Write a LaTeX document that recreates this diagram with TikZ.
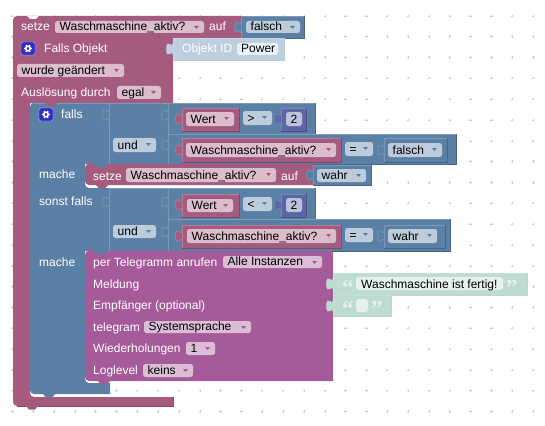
\documentclass[tikz,border=0pt]{standalone}
\usepackage{fontspec}
\setmainfont{Liberation Sans}
\newfontfamily\quotefont{Liberation Serif}
\usepackage{tikz}
\definecolor{basered}{HTML}{A55B80}
\definecolor{lightred}{HTML}{B77C99}
\definecolor{darkred}{HTML}{844966}
\definecolor{fieldred}{HTML}{DBBDCC}
\definecolor{arrowred}{HTML}{A55B80}
\definecolor{baseblue}{HTML}{5B80A5}
\definecolor{lightblue}{HTML}{7C99B7}
\definecolor{darkblue}{HTML}{496684}
\definecolor{fieldblue}{HTML}{BDCCDB}
\definecolor{arrowblue}{HTML}{5B80A5}
\definecolor{basepurple}{HTML}{A55B99}
\definecolor{lightpurple}{HTML}{B77CAD}
\definecolor{darkpurple}{HTML}{84497A}
\definecolor{fieldpurple}{HTML}{DBBDD6}
\definecolor{arrowpurple}{HTML}{A55B99}
\definecolor{basenum}{HTML}{5B67A5}
\definecolor{lightnum}{HTML}{7C85B7}
\definecolor{darknum}{HTML}{495284}
\definecolor{fieldnum}{HTML}{BDC2DB}
\definecolor{baseteal}{HTML}{BFDCD1}
\definecolor{lightteal}{HTML}{C6E0D6}
\definecolor{darkteal}{HTML}{BAD8CC}
\definecolor{fieldteal}{HTML}{E6F1EC}
\definecolor{baseid}{HTML}{BDCFDF}
\definecolor{lightid}{HTML}{C6D6E4}
\definecolor{darkid}{HTML}{B7CADB}
\definecolor{fieldid}{HTML}{EBF1F6}
\definecolor{gearblue}{HTML}{3030C8}
\tikzset{
  text_node/.style = {anchor=base west, inner sep=0pt, font=\fontsize{12}{14}\selectfont},
  label_node/.style = {text_node, text=white},% texte des blocs
  field_node/.style = {text_node, text=black},% texte des champs
  quote_node/.style = {anchor=base west, inner sep=0pt, text=fieldteal,
    font=\quotefont\bfseries\fontsize{23}{23}\selectfont},
  dot_mark/.style = {draw=black!20, line width=0.5pt}
}
% x1 y1 x2 y2 base
\newcommand{\blockbox}[5]{
  \fill[base#5] (#1,#2) rectangle (#3,#4);
  \draw[dark#5] (#3,#2) -- (#3,#4) -- (#1,#4);
  \draw[light#5] (#1,#4) -- (#1,#2) -- (#3,#2);
}
% x ycentre base
\newcommand{\puzzletab}[3]{
  \path[fill=base#3, draw=light#3, line width=0.6pt] (#1,#2-6)
    .. controls (#1,#2+2) and (#1-6.4,#2-12.4) .. (#1-6.4,#2)
    .. controls (#1-6.4,#2+12.4) and (#1,#2-2) .. (#1,#2+6);
}
% x y base
\newcommand{\notchbump}[3]{
  \fill[#3] (#1-6,#2) -- (#1-3,#2+3.5) -- (#1+3,#2+3.5) -- (#1+6,#2) -- cycle;
}
% name x1 y1 x2 y2 scheme text
\newcommand{\dropfield}[7]{
  \fill[field#6, rounded corners=2.5pt] (#2,#3) rectangle (#4,#5);
  \node[field_node] (#1) at (#2+4.5,#5-2.5) {#7};
  \fill[arrow#6] (#4-10,#3+5) -- (#4-5,#3+5) -- (#4-7.5,#3+8) -- cycle;
}
% x y
\newcommand{\gearicon}[2]{
  \fill[gearblue, rounded corners=2pt] (#1,#2) rectangle ++(14,13);
  \draw[white!70!gearblue, rounded corners=2pt] (#1,#2) rectangle ++(14,13);
  \draw[white, line width=1.6pt] (#1+7,#2+6.5) circle (2.3pt);
  \foreach \ang in {0,60,...,300}
    \fill[white] (#1+7,#2+6.5) ++(\ang:3.2pt) circle (0.9pt);
}
\begin{document}
\begin{tikzpicture}[x=1pt, y=-1pt]
  \useasboundingbox (0,0) rectangle (545,425);
  \fill[white] (0,0) rectangle (545,425);
  % grille
  \foreach \i in {0,...,25}
    \foreach \j in {0,...,19} {
      \draw[dot_mark] (12.3+\i*20.83-1.2,15.8+\j*20.83) -- ++(2.4,0);
      \draw[dot_mark] (12.3+\i*20.83,15.8+\j*20.83-1.2) -- ++(0,2.4);
    }

  % bloc du haut
  \blockbox{241}{16}{304}{38}{blue}
  \fill[basered] (13,38) [rounded corners=4pt] -- (13,16) [sharp corners] -- (241,16) -- (241,38) -- cycle;
  \draw[lightred] (13,38) -- (241,38);
  \fill[white] (27,16) -- (30,19) -- (36,19) -- (39,16) -- cycle;
  \node[label_node] (setzeA) at (21,31) {setze};
  \dropfield{varA}{55}{21}{204}{33}{red}{Waschmaschine\_aktiv?}
  \node[label_node] (aufA) at (209,31) {auf};
  \puzzletab{241}{27}{blue}
  \dropfield{valA}{246}{21}{300}{33}{blue}{falsch}

  % bloc falls objekt
  \fill[basered] (13,38) -- (173,38) -- (173,103) -- (30,103) [rounded corners=4pt] -- (30,397) [sharp corners]
    -- (173,397) -- (173,406) [rounded corners=4pt] -- (13,406) [sharp corners] -- cycle;
  \draw[darkred] (173,397) -- (173,406) -- (17,406);
  \notchbump{32}{406}{basered}
  \gearicon{21}{42}
  \node[label_node] (objekt) at (44,53) {Falls Objekt};
  \blockbox{173}{38}{284}{60}{id}
  \puzzletab{173}{49}{id}
  \node[label_node] (objektid) at (182,53) {Objekt ID};
  \fill[fieldid, rounded corners=2.5pt] (237,43) rectangle (278,55);
  \node[field_node] (power) at (241,53) {Power};
  \dropfield{changed}{17}{64}{124}{77}{red}{wurde geändert}
  \node[label_node] (trigger) at (21,96) {Auslösung durch};
  \dropfield{egal}{117}{86}{161}{99}{red}{egal}

  % bloc falls
  \fill[baseblue] (34,103) -- (109,103) -- (109,164) -- (85,164) [rounded corners=4pt] -- (85,188) [sharp corners]
    -- (109,188) -- (109,251) -- (85,251) [rounded corners=4pt] -- (85,383) [sharp corners] -- (110,383) -- (110,394)
    [rounded corners=4pt] -- (30,394) -- (30,103) -- (34,103) [sharp corners] -- cycle;
  \draw[lightblue] (109,103) -- (34,103);
  \notchbump{51}{103}{basered}
  \notchbump{49}{394}{baseblue}
  \gearicon{39}{108}
  \node[label_node] (falls) at (61,118) {falls};
  \node[label_node] (macheA) at (39,178) {mache};
  \node[label_node] (sonst) at (39,205) {sonst falls};
  \node[label_node] (macheB) at (39,266) {mache};

  % premier und
  \blockbox{109}{103}{168}{164}{blue}
  \puzzletab{109}{115}{blue}
  \dropfield{undA}{113}{138}{156}{152}{blue}{und}
  \blockbox{168}{103}{315}{134}{blue}
  \blockbox{168}{134}{456}{164}{blue}
  \puzzletab{168}{115}{blue}
  \puzzletab{168}{145}{blue}
  \blockbox{182}{108}{239}{131}{red}
  \puzzletab{182}{119}{red}
  \dropfield{wertA}{186}{112}{234}{126}{red}{Wert}
  \dropfield{cmpA}{243}{111}{272}{125}{blue}{>}
  \blockbox{281}{108}{306}{131}{num}
  \puzzletab{281}{119}{num}
  \fill[fieldnum, rounded corners=2.5pt] (286,112) rectangle (302,126);
  \node[field_node] (zweiA) at (290.5,123) {2};
  \blockbox{182}{138}{341}{162}{red}
  \puzzletab{182}{150}{red}
  \dropfield{varB}{186}{143}{336}{157}{red}{Waschmaschine\_aktiv?}
  \dropfield{cmpB}{345}{142}{373}{156}{blue}{=}
  \blockbox{384}{138}{447}{162}{blue}
  \puzzletab{384}{150}{blue}
  \dropfield{valB}{388}{143}{442}{157}{blue}{falsch}

  % setze dans mache
  \blockbox{313}{165}{371}{185}{blue}
  \fill[basered] (89,164) -- (313,164) -- (313,185) [rounded corners=4pt] -- (85,185) -- (85,164) -- (89,164) [sharp corners] -- cycle;
  \notchbump{101}{164}{baseblue}
  \notchbump{102}{185}{basered}
  \node[label_node] (setzeB) at (93,180) {setze};
  \dropfield{varC}{126}{168}{276}{182}{red}{Waschmaschine\_aktiv?}
  \node[label_node] (aufB) at (281,180) {auf};
  \puzzletab{313}{175}{blue}
  \dropfield{valC}{317}{169}{366}{182}{blue}{wahr}

  % second und
  \blockbox{109}{188}{168}{251}{blue}
  \puzzletab{109}{202}{blue}
  \dropfield{undB}{113}{225}{156}{238}{blue}{und}
  \blockbox{168}{188}{315}{219}{blue}
  \blockbox{168}{219}{450}{251}{blue}
  \puzzletab{168}{202}{blue}
  \puzzletab{168}{232}{blue}
  \blockbox{182}{194}{239}{217}{red}
  \puzzletab{182}{205}{red}
  \dropfield{wertB}{187}{199}{233}{212}{red}{Wert}
  \dropfield{cmpC}{243}{197}{272}{211}{blue}{<}
  \blockbox{281}{194}{306}{217}{num}
  \puzzletab{281}{205}{num}
  \fill[fieldnum, rounded corners=2.5pt] (286,198) rectangle (302,212);
  \node[field_node] (zweiB) at (290.5,209) {2};
  \blockbox{182}{225}{341}{248}{red}
  \puzzletab{182}{236}{red}
  \dropfield{varD}{187}{229}{336}{243}{red}{Waschmaschine\_aktiv?}
  \dropfield{cmpD}{345}{228}{373}{242}{blue}{=}
  \blockbox{384}{225}{445}{248}{blue}
  \puzzletab{384}{236}{blue}
  \dropfield{valD}{388}{229}{437}{243}{blue}{wahr}

  % telegram
  \fill[basepurple] (89,251) -- (333,251) -- (333,381) [rounded corners=4pt] -- (85,381) -- (85,251) -- (89,251) [sharp corners] -- cycle;
  \notchbump{101}{251}{baseblue}
  \notchbump{104}{381}{basepurple}
  \node[label_node] (anrufen) at (93,266) {per Telegramm anrufen};
  \dropfield{instanz}{223}{256}{322}{268}{purple}{Alle Instanzen}
  \node[label_node] (meldung) at (93,288) {Meldung};
  \node[label_node] (empf) at (93,309) {Empfänger (optional)};
  \node[label_node] (telegram) at (93,331) {telegram};
  \dropfield{sprache}{144}{321}{251}{333}{purple}{Systemsprache}
  \node[label_node] (wdh) at (93,352) {Wiederholungen};
  \dropfield{eins}{186}{342}{215}{355}{purple}{1}
  \node[label_node] (loglevel) at (93,374) {Loglevel};
  \dropfield{keins}{143}{364}{193}{377}{purple}{keins}

  % textes
  \blockbox{333}{273}{527}{295}{teal}
  \puzzletab{333}{284}{teal}
  \node[quote_node] (openA) at (342,295) {“};
  \fill[fieldteal, rounded corners=2.5pt] (356,277) rectangle (503,290);
  \node[field_node] (fertig) at (361,288) {Waschmaschine ist fertig!};
  \node[quote_node] (closeA) at (506,295) {”};
  \blockbox{333}{295}{391}{316}{teal}
  \puzzletab{333}{306}{teal}
  \node[quote_node] (openB) at (342,316) {“};
  \fill[fieldteal, rounded corners=2.5pt] (356,299) rectangle (368,312);
  \node[quote_node] (closeB) at (371,316) {”};
\end{tikzpicture}
\end{document}
